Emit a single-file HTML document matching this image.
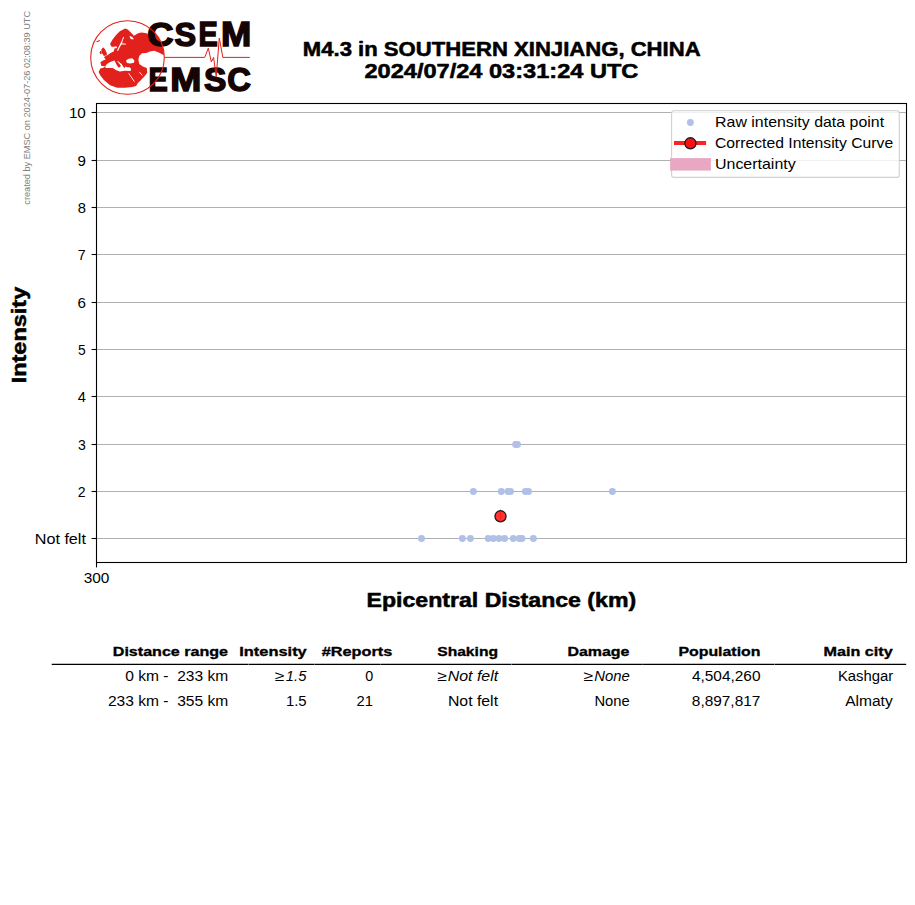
<!DOCTYPE html><html><head><meta charset="utf-8"><style>html,body{margin:0;padding:0;background:#fff;}svg{display:block;white-space:pre;font-family:"Liberation Sans",sans-serif;}</style></head><body>
<svg width="915" height="905" viewBox="0 0 915 905">
<rect x="0" y="0" width="915" height="905" fill="#fff"/>
<line x1="96.5" y1="538.50" x2="906.5" y2="538.50" stroke="#b0b0b0" stroke-width="1.0"/>
<line x1="96.5" y1="491.50" x2="906.5" y2="491.50" stroke="#b0b0b0" stroke-width="1.0"/>
<line x1="96.5" y1="444.50" x2="906.5" y2="444.50" stroke="#b0b0b0" stroke-width="1.0"/>
<line x1="96.5" y1="396.50" x2="906.5" y2="396.50" stroke="#b0b0b0" stroke-width="1.0"/>
<line x1="96.5" y1="349.50" x2="906.5" y2="349.50" stroke="#b0b0b0" stroke-width="1.0"/>
<line x1="96.5" y1="302.50" x2="906.5" y2="302.50" stroke="#b0b0b0" stroke-width="1.0"/>
<line x1="96.5" y1="254.50" x2="906.5" y2="254.50" stroke="#b0b0b0" stroke-width="1.0"/>
<line x1="96.5" y1="207.50" x2="906.5" y2="207.50" stroke="#b0b0b0" stroke-width="1.0"/>
<line x1="96.5" y1="160.50" x2="906.5" y2="160.50" stroke="#b0b0b0" stroke-width="1.0"/>
<line x1="96.5" y1="112.50" x2="906.5" y2="112.50" stroke="#b0b0b0" stroke-width="1.0"/>
<line x1="91.60" y1="538.50" x2="96.5" y2="538.50" stroke="#000" stroke-width="1.1"/>
<line x1="91.60" y1="491.50" x2="96.5" y2="491.50" stroke="#000" stroke-width="1.1"/>
<line x1="91.60" y1="444.50" x2="96.5" y2="444.50" stroke="#000" stroke-width="1.1"/>
<line x1="91.60" y1="396.50" x2="96.5" y2="396.50" stroke="#000" stroke-width="1.1"/>
<line x1="91.60" y1="349.50" x2="96.5" y2="349.50" stroke="#000" stroke-width="1.1"/>
<line x1="91.60" y1="302.50" x2="96.5" y2="302.50" stroke="#000" stroke-width="1.1"/>
<line x1="91.60" y1="254.50" x2="96.5" y2="254.50" stroke="#000" stroke-width="1.1"/>
<line x1="91.60" y1="207.50" x2="96.5" y2="207.50" stroke="#000" stroke-width="1.1"/>
<line x1="91.60" y1="160.50" x2="96.5" y2="160.50" stroke="#000" stroke-width="1.1"/>
<line x1="91.60" y1="112.50" x2="96.5" y2="112.50" stroke="#000" stroke-width="1.1"/>
<line x1="96.5" y1="562.5" x2="96.5" y2="567.40" stroke="#000" stroke-width="1.1"/>
<text transform="translate(77.67 496.50) scale(0.9579 1)" font-size="14.72" font-weight="normal" font-style="normal" fill="#000" >2</text>
<text transform="translate(77.88 449.50) scale(0.9553 1)" font-size="14.72" font-weight="normal" font-style="normal" fill="#000" >3</text>
<text transform="translate(77.71 401.50) scale(0.9939 1)" font-size="14.72" font-weight="normal" font-style="normal" fill="#000" >4</text>
<text transform="translate(77.88 354.50) scale(0.9394 1)" font-size="14.72" font-weight="normal" font-style="normal" fill="#000" >5</text>
<text transform="translate(77.56 307.50) scale(1.0314 1)" font-size="14.72" font-weight="normal" font-style="normal" fill="#000" >6</text>
<text transform="translate(77.77 259.50) scale(0.9724 1)" font-size="14.72" font-weight="normal" font-style="normal" fill="#000" >7</text>
<text transform="translate(77.67 212.50) scale(1.0036 1)" font-size="14.72" font-weight="normal" font-style="normal" fill="#000" >8</text>
<text transform="translate(77.53 165.50) scale(1.0271 1)" font-size="14.72" font-weight="normal" font-style="normal" fill="#000" >9</text>
<text transform="translate(68.89 117.50) scale(1.0371 1)" font-size="14.72" font-weight="normal" font-style="normal" fill="#000" >10</text>
<text transform="translate(34.74 543.50) scale(1.0984 1)" font-size="14.72" font-weight="normal" font-style="normal" fill="#000" >Not felt</text>
<text transform="translate(83.71 583.00) scale(1.0472 1)" font-size="14.72" font-weight="normal" font-style="normal" fill="#000" >300</text>
<circle cx="421.5" cy="538.50" r="3.45" fill="#b0c0e8"/>
<circle cx="462.4" cy="538.50" r="3.45" fill="#b0c0e8"/>
<circle cx="470.4" cy="538.50" r="3.45" fill="#b0c0e8"/>
<circle cx="488.2" cy="538.50" r="3.45" fill="#b0c0e8"/>
<circle cx="493.4" cy="538.50" r="3.45" fill="#b0c0e8"/>
<circle cx="499.0" cy="538.50" r="3.45" fill="#b0c0e8"/>
<circle cx="504.6" cy="538.50" r="3.45" fill="#b0c0e8"/>
<circle cx="513.2" cy="538.50" r="3.45" fill="#b0c0e8"/>
<circle cx="519.3" cy="538.50" r="3.45" fill="#b0c0e8"/>
<circle cx="522.0" cy="538.50" r="3.45" fill="#b0c0e8"/>
<circle cx="533.4" cy="538.50" r="3.45" fill="#b0c0e8"/>
<circle cx="473.4" cy="491.50" r="3.45" fill="#b0c0e8"/>
<circle cx="501.3" cy="491.50" r="3.45" fill="#b0c0e8"/>
<circle cx="507.9" cy="491.50" r="3.45" fill="#b0c0e8"/>
<circle cx="510.5" cy="491.50" r="3.45" fill="#b0c0e8"/>
<circle cx="525.4" cy="491.50" r="3.45" fill="#b0c0e8"/>
<circle cx="528.5" cy="491.50" r="3.45" fill="#b0c0e8"/>
<circle cx="612.4" cy="491.50" r="3.45" fill="#b0c0e8"/>
<circle cx="515.6" cy="444.50" r="3.45" fill="#b0c0e8"/>
<circle cx="517.5" cy="444.50" r="3.45" fill="#b0c0e8"/>
<circle cx="500.5" cy="516.3" r="5.55" fill="#ff3333" stroke="#1a1a1a" stroke-width="1.3"/>
<line x1="500.5" y1="511.3" x2="500.5" y2="521.3" stroke="#ff1c1c" stroke-width="0.9"/>
<rect x="500" y="508.8" width="1" height="0.9" fill="#ffb0c0"/>
<rect x="96.5" y="103.5" width="810.00" height="459.00" fill="none" stroke="#000" stroke-width="1.1"/>
<rect x="671.6" y="110.7" width="227.7" height="66.7" rx="2.5" fill="#fff" fill-opacity="0.8" stroke="#d0d0d0" stroke-width="1.1"/>
<rect x="670.1" y="158.1" width="40.8" height="12.5" fill="#e8a8c4"/>
<line x1="674" y1="143" x2="706.1" y2="143" stroke="#ff2222" stroke-width="4"/>
<circle cx="690.4" cy="143.3" r="5.55" fill="#ff1010" stroke="#1a1a1a" stroke-width="1.3"/>
<circle cx="690.4" cy="122.5" r="3.45" fill="#b0c0e8"/>
<text transform="translate(715.06 127.00) scale(1.0818 1)" font-size="14.72" font-weight="normal" font-style="normal" fill="#000" >Raw intensity data point</text>
<text transform="translate(714.98 148.00) scale(1.0681 1)" font-size="14.72" font-weight="normal" font-style="normal" fill="#000" >Corrected Intensity Curve</text>
<text transform="translate(714.98 169.00) scale(1.0849 1)" font-size="14.72" font-weight="normal" font-style="normal" fill="#000" >Uncertainty</text>
<text transform="translate(302.80 55.75) scale(1.1407 1)" font-size="19.39" font-weight="bold" font-style="normal" fill="#000" stroke="#000" stroke-width="0.51" stroke-linejoin="round" >M4.3 in SOUTHERN XINJIANG, CHINA</text>
<text transform="translate(364.45 77.65) scale(1.2170 1)" font-size="19.39" font-weight="bold" font-style="normal" fill="#000" stroke="#000" stroke-width="0.51" stroke-linejoin="round" >2024/07/24 03:31:24 UTC</text>
<text transform="translate(366.50 606.55) scale(1.1918 1)" font-size="19.39" font-weight="bold" font-style="normal" fill="#000" stroke="#000" stroke-width="0.51" stroke-linejoin="round" >Epicentral Distance (km)</text>
<text transform="rotate(-90 25.90 335.00) translate(-22.43 334.75) scale(1.2123 1)" font-size="19.39" font-weight="bold" font-style="normal" fill="#000" stroke="#000" stroke-width="0.51" stroke-linejoin="round" >Intensity</text>
<text transform="rotate(-90 30.20 107.70) translate(-66.78 107.70) scale(1.0397 1)" font-size="8.83" font-weight="normal" font-style="normal" fill="#808080" >created by EMSC on 2024-07-26 02:08:39 UTC</text>
<line x1="51.72" y1="664.4" x2="248.48" y2="664.4" stroke="#000" stroke-width="1.2"/>
<line x1="248.72" y1="664.4" x2="314.18" y2="664.4" stroke="#000" stroke-width="1.2"/>
<line x1="314.42" y1="664.4" x2="380.08" y2="664.4" stroke="#000" stroke-width="1.2"/>
<line x1="380.32" y1="664.4" x2="511.28" y2="664.4" stroke="#000" stroke-width="1.2"/>
<line x1="511.52" y1="664.4" x2="642.78" y2="664.4" stroke="#000" stroke-width="1.2"/>
<line x1="643.02" y1="664.4" x2="774.38" y2="664.4" stroke="#000" stroke-width="1.2"/>
<line x1="774.62" y1="664.4" x2="906.18" y2="664.4" stroke="#000" stroke-width="1.2"/>
<text transform="translate(112.80 656.22) scale(1.1861 1)" font-size="13.56" font-weight="bold" font-style="normal" fill="#000" stroke="#000" stroke-width="0.35" stroke-linejoin="round" >Distance range</text>
<text transform="translate(239.25 656.22) scale(1.2123 1)" font-size="13.56" font-weight="bold" font-style="normal" fill="#000" stroke="#000" stroke-width="0.35" stroke-linejoin="round" >Intensity</text>
<text transform="translate(321.73 656.22) scale(1.1993 1)" font-size="13.56" font-weight="bold" font-style="normal" fill="#000" stroke="#000" stroke-width="0.35" stroke-linejoin="round" >#Reports</text>
<text transform="translate(437.22 656.22) scale(1.1527 1)" font-size="13.56" font-weight="bold" font-style="normal" fill="#000" stroke="#000" stroke-width="0.35" stroke-linejoin="round" >Shaking</text>
<text transform="translate(567.38 656.22) scale(1.1777 1)" font-size="13.56" font-weight="bold" font-style="normal" fill="#000" stroke="#000" stroke-width="0.35" stroke-linejoin="round" >Damage</text>
<text transform="translate(678.41 656.22) scale(1.1724 1)" font-size="13.56" font-weight="bold" font-style="normal" fill="#000" stroke="#000" stroke-width="0.35" stroke-linejoin="round" >Population</text>
<text transform="translate(823.56 656.22) scale(1.1923 1)" font-size="13.56" font-weight="bold" font-style="normal" fill="#000" stroke="#000" stroke-width="0.35" stroke-linejoin="round" >Main city</text>
<text transform="translate(125.31 680.70) scale(1.0801 1)" font-size="14.42" font-weight="normal" font-style="normal" fill="#000" >0 km -  233 km</text>
<text transform="translate(285.85 680.70) scale(1.0255 1)" font-size="14.42" font-weight="normal" font-style="italic" fill="#000" >1.5</text>
<text transform="translate(275.08 680.70) scale(1.2127 1)" font-size="14.42" font-weight="normal" font-style="normal" fill="#000" >≥</text>
<text transform="translate(365.29 680.70) scale(0.9947 1)" font-size="14.42" font-weight="normal" font-style="normal" fill="#000" >0</text>
<text transform="translate(447.76 680.70) scale(1.1037 1)" font-size="14.42" font-weight="normal" font-style="italic" fill="#000" >Not felt</text>
<text transform="translate(437.39 680.70) scale(1.2127 1)" font-size="14.42" font-weight="normal" font-style="normal" fill="#000" >≥</text>
<text transform="translate(594.23 680.70) scale(1.0312 1)" font-size="14.42" font-weight="normal" font-style="italic" fill="#000" >None</text>
<text transform="translate(583.82 680.70) scale(1.2127 1)" font-size="14.42" font-weight="normal" font-style="normal" fill="#000" >≥</text>
<text transform="translate(691.90 680.70) scale(1.0696 1)" font-size="14.42" font-weight="normal" font-style="normal" fill="#000" >4,504,260</text>
<text transform="translate(837.94 680.70) scale(1.0316 1)" font-size="14.42" font-weight="normal" font-style="normal" fill="#000" >Kashgar</text>
<text transform="translate(107.93 705.80) scale(1.0806 1)" font-size="14.42" font-weight="normal" font-style="normal" fill="#000" >233 km -  355 km</text>
<text transform="translate(285.94 705.80) scale(1.0331 1)" font-size="14.42" font-weight="normal" font-style="normal" fill="#000" >1.5</text>
<text transform="translate(356.54 705.80) scale(1.0299 1)" font-size="14.42" font-weight="normal" font-style="normal" fill="#000" >21</text>
<text transform="translate(447.92 705.80) scale(1.0984 1)" font-size="14.42" font-weight="normal" font-style="normal" fill="#000" >Not felt</text>
<text transform="translate(594.44 705.80) scale(1.0242 1)" font-size="14.42" font-weight="normal" font-style="normal" fill="#000" >None</text>
<text transform="translate(691.85 705.80) scale(1.0690 1)" font-size="14.42" font-weight="normal" font-style="normal" fill="#000" >8,897,817</text>
<text transform="translate(845.13 705.80) scale(1.0803 1)" font-size="14.42" font-weight="normal" font-style="normal" fill="#000" >Almaty</text>
<g>
<defs><clipPath id="gc"><circle cx="127.5" cy="57.5" r="36.9"/></clipPath></defs>
<polygon clip-path="url(#gc)" fill="#e2211c" points="119.82,31.26 125.13,28.61 127.78,29.49 131.31,33.03 133.97,35.68 137.50,33.47 141.04,32.59 145.46,33.03 149.88,34.80 155.18,31.26 171.98,44.52 171.98,55.13 164.02,55.13 158.72,52.48 154.30,50.71 149.88,51.59 146.34,52.92 141.92,53.36 139.27,56.01 138.39,59.55 139.27,63.97 142.81,66.62 146.78,67.94 147.23,72.81 144.57,76.34 141.04,79.88 137.50,83.41 136.18,86.07 132.20,86.95 125.13,87.83 117.17,87.83 110.10,85.18 103.91,79.88 100.38,75.46 98.61,71.92 100.38,68.39 103.91,67.50 105.24,66.62 101.26,65.73 100.38,62.20 103.03,60.43 105.68,59.55 103.91,56.90 107.45,55.13 110.10,53.36 113.64,51.59 114.52,48.94 113.64,47.17 110.98,46.29 110.10,43.64 112.75,39.22 116.29,34.80"/>
<polygon  fill="#e2211c" points="103.03,47.17 104.80,48.94 106.56,52.48 107.01,55.13 103.91,56.01 102.14,53.36 101.26,49.82"/>
<polygon  fill="#e2211c" points="100.38,50.71 101.70,51.15 101.70,53.80 100.38,54.24 99.49,52.48"/>
<polygon  fill="#fff" points="105.24,66.18 107.01,63.97 109.66,62.20 112.31,61.31 114.52,60.61 115.58,62.64 117.17,65.73 118.76,67.68 120.27,66.80 120.88,65.73 118.50,62.64 116.99,61.31 118.06,61.14 121.59,63.97 123.18,66.44 124.24,68.21 125.57,66.62 126.90,67.33 129.55,67.33 131.05,68.83 130.61,71.04 125.13,70.69 119.82,71.57 116.29,70.15 112.75,68.03 105.68,68.03"/>
<polygon  fill="#fff" points="126.01,60.43 128.66,58.66 132.20,58.22 134.41,60.43 133.97,62.64 130.43,63.52 126.90,63.08"/>
<polygon  fill="#fff" points="123.18,36.74 122.03,40.10 120.27,43.64 118.50,47.17 116.99,50.53 118.06,50.88 119.65,47.61 121.41,44.52 126.01,44.52 126.19,43.64 122.03,43.19 122.92,40.10 124.07,37.45"/>
<polygon  fill="#fff" points="111.87,47.17 114.52,48.50 117.17,48.06 116.29,46.29 113.64,46.73"/>
<polygon  fill="#fff" points="129.55,35.68 132.20,37.01 133.97,39.22 131.31,39.22 129.99,37.89"/>
<line x1="128.66" y1="73.25" x2="134.41" y2="81.65" stroke="#fff" stroke-width="0.9"/>
<line x1="139.27" y1="71.92" x2="142.36" y2="75.46" stroke="#fff" stroke-width="0.9"/>
<text transform="translate(147.36 46.05) scale(1.0809 1)" font-size="33.67" font-weight="bold" fill="#160404" stroke="#160404" stroke-width="1.5">C</text>
<text transform="translate(174.61 46.05) scale(0.9620 1)" font-size="33.67" font-weight="bold" fill="#160404" stroke="#160404" stroke-width="1.5">S</text>
<text transform="translate(198.52 46.05) scale(0.8454 1)" font-size="34.16" font-weight="bold" fill="#160404" stroke="#160404" stroke-width="1.5">E</text>
<text transform="translate(220.92 46.05) scale(1.0638 1)" font-size="34.16" font-weight="bold" fill="#160404" stroke="#160404" stroke-width="1.5">M</text>
<text transform="translate(148.62 91.15) scale(0.8527 1)" font-size="33.87" font-weight="bold" fill="#160404" stroke="#160404" stroke-width="1.5">E</text>
<text transform="translate(170.35 91.15) scale(1.1025 1)" font-size="33.87" font-weight="bold" fill="#160404" stroke="#160404" stroke-width="1.5">M</text>
<text transform="translate(204.08 91.15) scale(1.0052 1)" font-size="33.38" font-weight="bold" fill="#160404" stroke="#160404" stroke-width="1.5">S</text>
<text transform="translate(227.31 91.15) scale(0.9802 1)" font-size="33.38" font-weight="bold" fill="#160404" stroke="#160404" stroke-width="1.5">C</text>
<circle cx="127.5" cy="57.5" r="36.8" fill="none" stroke="#e2211c" stroke-width="1.1"/>
<line x1="96.6" y1="41.8" x2="99.8" y2="40.4" stroke="#e2211c" stroke-width="1.1"/>
<polyline fill="none" stroke="#e2211c" stroke-width="1.0" stroke-linejoin="round" points="164.7,57.4 204.7,57.4 208.3,48.2 211.3,61.9 213.6,57.4 216.2,76.9 219.3,38 222.8,57.4 249.8,57.4"/>
</g>
</svg></body></html>
